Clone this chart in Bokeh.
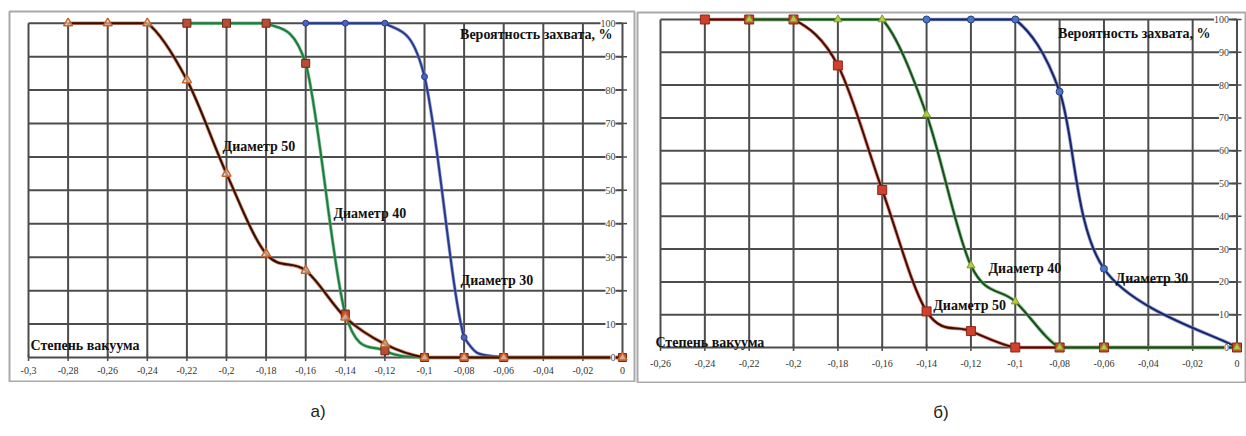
from bokeh.plotting import figure
from bokeh.models import ColumnDataSource, LabelSet, Div, Range1d
from bokeh.layouts import row, column
from bokeh.embed import file_html
from bokeh.resources import INLINE
from bokeh.core.properties import value

# ---------------- data: panel a) ----------------
a_d50_x = [-0.28, -0.26, -0.24, -0.22, -0.20, -0.18, -0.16, -0.14, -0.12, -0.10, -0.08, -0.06, 0.0]
a_d50_y = [100, 100, 100, 83, 55, 31, 26, 12, 4, 0, 0, 0, 0]
a_d40_x = [-0.22, -0.20, -0.18, -0.16, -0.14, -0.12, -0.10, -0.08, -0.06, 0.0]
a_d40_y = [100, 100, 100, 88, 13, 2, 0, 0, 0, 0]
a_d30_x = [-0.16, -0.14, -0.12, -0.10, -0.08, -0.06, 0.0]
a_d30_y = [100, 100, 100, 84, 6, 0, 0]

a_x_ticks = [-0.30, -0.28, -0.26, -0.24, -0.22, -0.20, -0.18, -0.16, -0.14, -0.12, -0.10, -0.08, -0.06, -0.04, -0.02, 0.0]
a_x_labels = ["-0,3", "-0,28", "-0,26", "-0,24", "-0,22", "-0,2", "-0,18", "-0,16", "-0,14", "-0,12",
              "-0,1", "-0,08", "-0,06", "-0,04", "-0,02", "0"]

# ---------------- data: panel б) ----------------
b_d50_x = [-0.24, -0.22, -0.20, -0.18, -0.16, -0.14, -0.12, -0.10, -0.08, -0.06, 0.0]
b_d50_y = [100, 100, 100, 86, 48, 11, 5, 0, 0, 0, 0]
b_d40_x = [-0.22, -0.20, -0.18, -0.16, -0.14, -0.12, -0.10, -0.08, -0.06, 0.0]
b_d40_y = [100, 100, 100, 100, 71, 25, 14, 0, 0, 0]
b_d30_x = [-0.14, -0.12, -0.10, -0.08, -0.06, 0.0]
b_d30_y = [100, 100, 100, 78, 24, 0]

b_x_ticks = [-0.26, -0.24, -0.22, -0.20, -0.18, -0.16, -0.14, -0.12, -0.10, -0.08, -0.06, -0.04, -0.02, 0.0]
b_x_labels = ["-0,26", "-0,24", "-0,22", "-0,2", "-0,18", "-0,16", "-0,14", "-0,12",
              "-0,1", "-0,08", "-0,06", "-0,04", "-0,02", "0"]

y_ticks = [0, 10, 20, 30, 40, 50, 60, 70, 80, 90, 100]
y_labels = ["0", "10", "20", "30", "40", "50", "60", "70", "80", "90", "100"]

series_names = ["Диаметр 50", "Диаметр 40", "Диаметр 30"]
y_title = "Вероятность захвата, %"
x_title = "Степень вакуума"

# annotation placement (data coordinates of each panel)
a_name_x = [-0.202, -0.146, -0.0818]
a_name_y = [63, 43, 23]
b_name_x = [-0.137, -0.1121, -0.0548]
b_name_y = [12.8, 24.1, 21.0]

SERIF = "Liberation Serif"
GRID = "#4c4c4c"
Y_LO, Y_HI = 0, 100


def smooth_parts(xs, ys):
    """Excel-like smoothed line: cubic Bezier pieces between consecutive points."""
    n = len(xs)
    out = {k: [] for k in ("x0", "y0", "x1", "y1", "cx0", "cy0", "cx1", "cy1")}
    clamp = lambda v: min(max(v, Y_LO), Y_HI)
    for i in range(n - 1):
        a = i - 1 if i > 0 else i
        d = i + 2 if i + 2 < n else i + 1
        out["x0"].append(xs[i]); out["y0"].append(ys[i])
        out["x1"].append(xs[i + 1]); out["y1"].append(ys[i + 1])
        out["cx0"].append(xs[i] + (xs[i + 1] - xs[a]) / 6.0)
        out["cy0"].append(clamp(ys[i] + (ys[i + 1] - ys[a]) / 6.0))
        out["cx1"].append(xs[i + 1] - (xs[d] - xs[i]) / 6.0)
        out["cy1"].append(clamp(ys[i + 1] - (ys[d] - ys[i]) / 6.0))
    return out


def curve(p, xs, ys, halo, core, hw, cw):
    src = ColumnDataSource(smooth_parts(xs, ys))
    if halo:
        p.bezier(x0="x0", y0="y0", x1="x1", y1="y1", cx0="cx0", cy0="cy0", cx1="cx1", cy1="cy1",
                 source=src, line_color=halo, line_width=hw, line_alpha=0.75)
    p.bezier(x0="x0", y0="y0", x1="x1", y1="y1", cx0="cx0", cy0="cy0", cx1="cx1", cy1="cy1",
             source=src, line_color=core, line_width=cw)


def panel(x_ticks, x_labels, xr, yr, fw, fh, mb_left, mb_right, mb_top, ylab_off, xlab_off):
    p = figure(width=mb_left + fw + mb_right, height=mb_top + fh, frame_width=fw, frame_height=fh,
               x_range=Range1d(*xr), y_range=Range1d(*yr), output_backend="svg",
               toolbar_location=None, x_axis_type=None, y_axis_type=None,
               min_border_left=mb_left, min_border_right=mb_right, min_border_top=mb_top,
               min_border_bottom=0)
    p.grid.visible = False
    p.outline_line_color = "#a9a9a9"
    p.outline_line_width = 2
    p.background_fill_color = "white"
    xmin = x_ticks[0]
    # grid
    p.segment(x0=x_ticks, y0=[y_ticks[0]] * len(x_ticks), x1=x_ticks, y1=[y_ticks[-1]] * len(x_ticks),
              line_color=GRID, line_width=2)
    p.segment(x0=[xmin] * len(y_ticks), y0=y_ticks, x1=[x_ticks[-1]] * len(y_ticks), y1=y_ticks,
              line_color=GRID, line_width=2)
    # tick marks on the axes
    p.scatter(x=[x_ticks[-1]] * len(y_ticks), y=y_ticks, marker="dash", size=9,
              line_color=GRID, line_width=1.5)
    p.scatter(x=x_ticks, y=[0] * len(x_ticks), marker="dash", angle=1.5708, size=7,
              line_color=GRID, line_width=1.5)
    # tick labels
    ysrc = ColumnDataSource(dict(x=[x_ticks[-1]] * len(y_ticks), y=y_ticks, t=y_labels))
    p.add_layout(LabelSet(x="x", y="y", text="t", source=ysrc, x_offset=ylab_off, text_align="right",
                          text_baseline="middle", text_font=value(SERIF), text_font_size="10px",
                          text_color="#444444", background_fill_color="white"))
    xsrc = ColumnDataSource(dict(x=x_ticks, y=[0] * len(x_ticks), t=x_labels))
    p.add_layout(LabelSet(x="x", y="y", text="t", source=xsrc, y_offset=xlab_off, text_align="center",
                          text_baseline="middle", text_font=value(SERIF), text_font_size="10px",
                          text_color="#333333"))
    return p


def bold_text(p, xs, ys, texts, align="left"):
    p.text(x=xs, y=ys, text=texts, text_align=align, text_baseline="middle",
           text_font=value(SERIF), text_font_style="bold", text_font_size="14px", text_color="#111111")


# ---------------- panel a) ----------------
p1 = panel(a_x_ticks, a_x_labels, (-0.3096, 0.00606), (-7.48, 103.5), 625, 371, 9, 2, 11, -7, -13)
curve(p1, a_d30_x, a_d30_y, "#7388d0", "#2a3888", 3.4, 2.0)
curve(p1, a_d40_x, a_d40_y, "#5cb878", "#237a40", 3.4, 2.0)
curve(p1, a_d50_x, a_d50_y, "#d0603a", "#2a1208", 3.6, 2.0)
p1.scatter(a_d30_x, a_d30_y, marker="circle", size=6, fill_color="#4a66bb", line_color="#2d3a8c")
p1.scatter(a_d40_x, a_d40_y, marker="square", size=8, fill_color="#b84c34", line_color="#6a2a18")
p1.scatter(a_d50_x, a_d50_y, marker="triangle", size=9, fill_color="#f6e6d6", fill_alpha=0.6,
           line_color="#c8642a", line_width=1.5)
bold_text(p1, a_name_x, a_name_y, series_names)
bold_text(p1, [-0.00505], [96.6], [y_title], align="right")
bold_text(p1, [-0.299], [3.6], [x_title])

# ---------------- panel б) ----------------
p2 = panel(b_x_ticks, b_x_labels, (-0.27037, 0.00383), (-10.98, 102.13), 608, 371, 1, 1, 12, -8, -16)
curve(p2, b_d30_x, b_d30_y, "#6a86d0", "#1e2460", 3.6, 2.0)
curve(p2, b_d50_x, b_d50_y, "#e0604a", "#3a1008", 3.6, 2.0)
curve(p2, b_d40_x, b_d40_y, "#6ab86a", "#1e4a22", 3.6, 2.0)
p2.scatter(b_d30_x, b_d30_y, marker="circle", size=7, fill_color="#4a78c8", line_color="#2a3e80")
p2.scatter(b_d50_x, b_d50_y, marker="square", size=9, fill_color="#d0402e", line_color="#8a2618")
p2.scatter(b_d40_x, b_d40_y, marker="triangle", size=8, fill_color="#b8c844", line_color="#7a9a2a")
bold_text(p2, b_name_x, b_name_y, series_names)
bold_text(p2, [-0.01195], [95.7], [y_title], align="right")
bold_text(p2, [-0.2623], [1.5], [x_title])

W1 = 9 + 625 + 2
W2 = 1 + 608 + 1
cap_style = ("text-align:center;font-family:'Liberation Sans',Arial,sans-serif;font-size:17px;"
             "color:#222;padding-top:18px;")
d1 = Div(text=f'<div style="width:{W1}px;{cap_style}">а)</div>', width=W1, height=46, margin=(0, 0, 0, 0))
d2 = Div(text=f'<div style="width:{W2}px;{cap_style}">б)</div>', width=W2, height=46, margin=(0, 0, 0, 0))

layout = row(column(p1, d1, spacing=0), column(p2, d2, spacing=0), spacing=0)

with open("out.html", "w") as f:
    f.write(file_html(layout, INLINE))
